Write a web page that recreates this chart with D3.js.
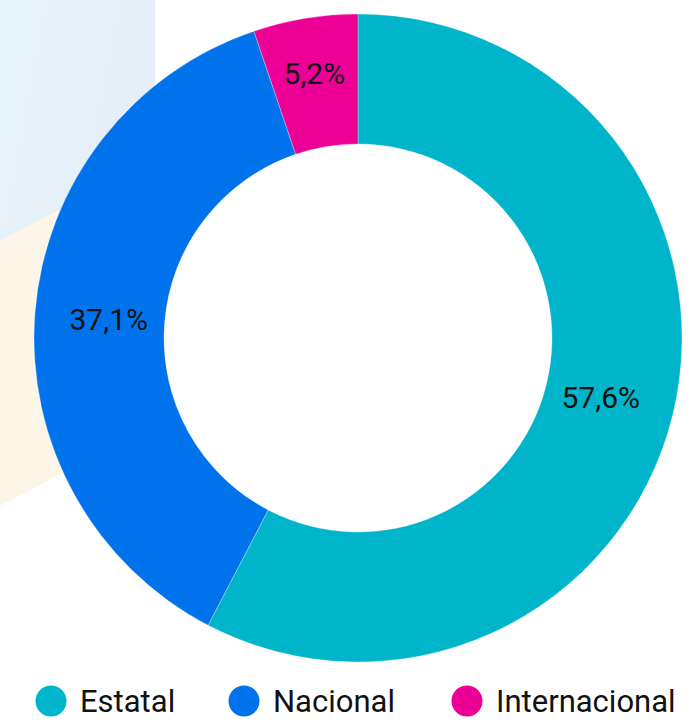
<!DOCTYPE html>
<html>
<head>
<meta charset="utf-8">
<script src="https://cdn.jsdelivr.net/npm/d3@7"></script>
<style>
  html, body { margin: 0; padding: 0; background: #ffffff; }
  svg { display: block; }
  text { font-family: Roboto, "Noto Sans", sans-serif; }
</style>
</head>
<body>
<svg id="chart" width="691" height="724"></svg>
<script>
const categories = ["Estatal", "Nacional", "Internacional"];
const values = [57.6, 37.1, 5.2];
const labels = ["57,6%", "37,1%", "5,2%"];
const colors = ["#00b5c9", "#0073ec", "#ec0096"];

const W = 691, H = 724;
const svg = d3.select("#chart");

// background decorations
const defs = svg.append("defs");
const g1 = defs.append("linearGradient").attr("id", "bgBlue")
  .attr("x1", "0").attr("y1", "0").attr("x2", "1").attr("y2", "0.3");
g1.append("stop").attr("offset", "0").attr("stop-color", "#e7f4f8");
g1.append("stop").attr("offset", "1").attr("stop-color", "#e6eef8");

svg.append("polygon")
  .attr("points", "0,0 155,0 155,160 0,241")
  .attr("fill", "url(#bgBlue)");
svg.append("polygon")
  .attr("points", "0,241 155,160 160,157 160,422 0,506")
  .attr("fill", "#fdf6e8");

const cx = 358, cy = 338, rOuter = 324, rInner = 194;
const g = svg.append("g").attr("transform", `translate(${cx},${cy})`);

const pie = d3.pie().sort(null).value(d => d.v);
const data = categories.map((c, i) => ({ c, v: values[i], label: labels[i], color: colors[i] }));
const arcs = pie(data);

const arc = d3.arc().innerRadius(rInner).outerRadius(rOuter);
g.selectAll("path.slice").data(arcs).enter().append("path")
  .attr("class", "slice")
  .attr("d", arc)
  .attr("fill", d => d.data.color)
  .attr("stroke", "rgba(255,255,255,0.5)")
  .attr("stroke-width", 0.6);

const labelArc = d3.arc().innerRadius(250).outerRadius(250);
const smallArc = d3.arc().innerRadius(268).outerRadius(268);
g.selectAll("text.lbl").data(arcs).enter().append("text")
  .attr("class", "lbl")
  .attr("transform", d => {
    const p = (d.endAngle - d.startAngle) < 0.5 ? smallArc.centroid(d) : labelArc.centroid(d);
    return `translate(${p[0]},${p[1]})`;
  })
  .attr("text-anchor", "middle")
  .attr("dy", "0.36em")
  .attr("font-size", 30)
  .attr("fill", "#111111")
  .text(d => d.data.label);

// legend
const legendX = [51, 244, 467];
const legend = svg.append("g").attr("transform", "translate(0,701)");
const items = legend.selectAll("g.item").data(data).enter().append("g")
  .attr("class", "item")
  .attr("transform", (d, i) => `translate(${legendX[i]},0)`);
items.append("circle").attr("r", 15.5).attr("fill", d => d.color);
items.append("text")
  .attr("x", 29)
  .attr("dy", "0.36em")
  .attr("font-size", 31)
  .attr("fill", "#111111")
  .text(d => d.c);
</script>
</body>
</html>
